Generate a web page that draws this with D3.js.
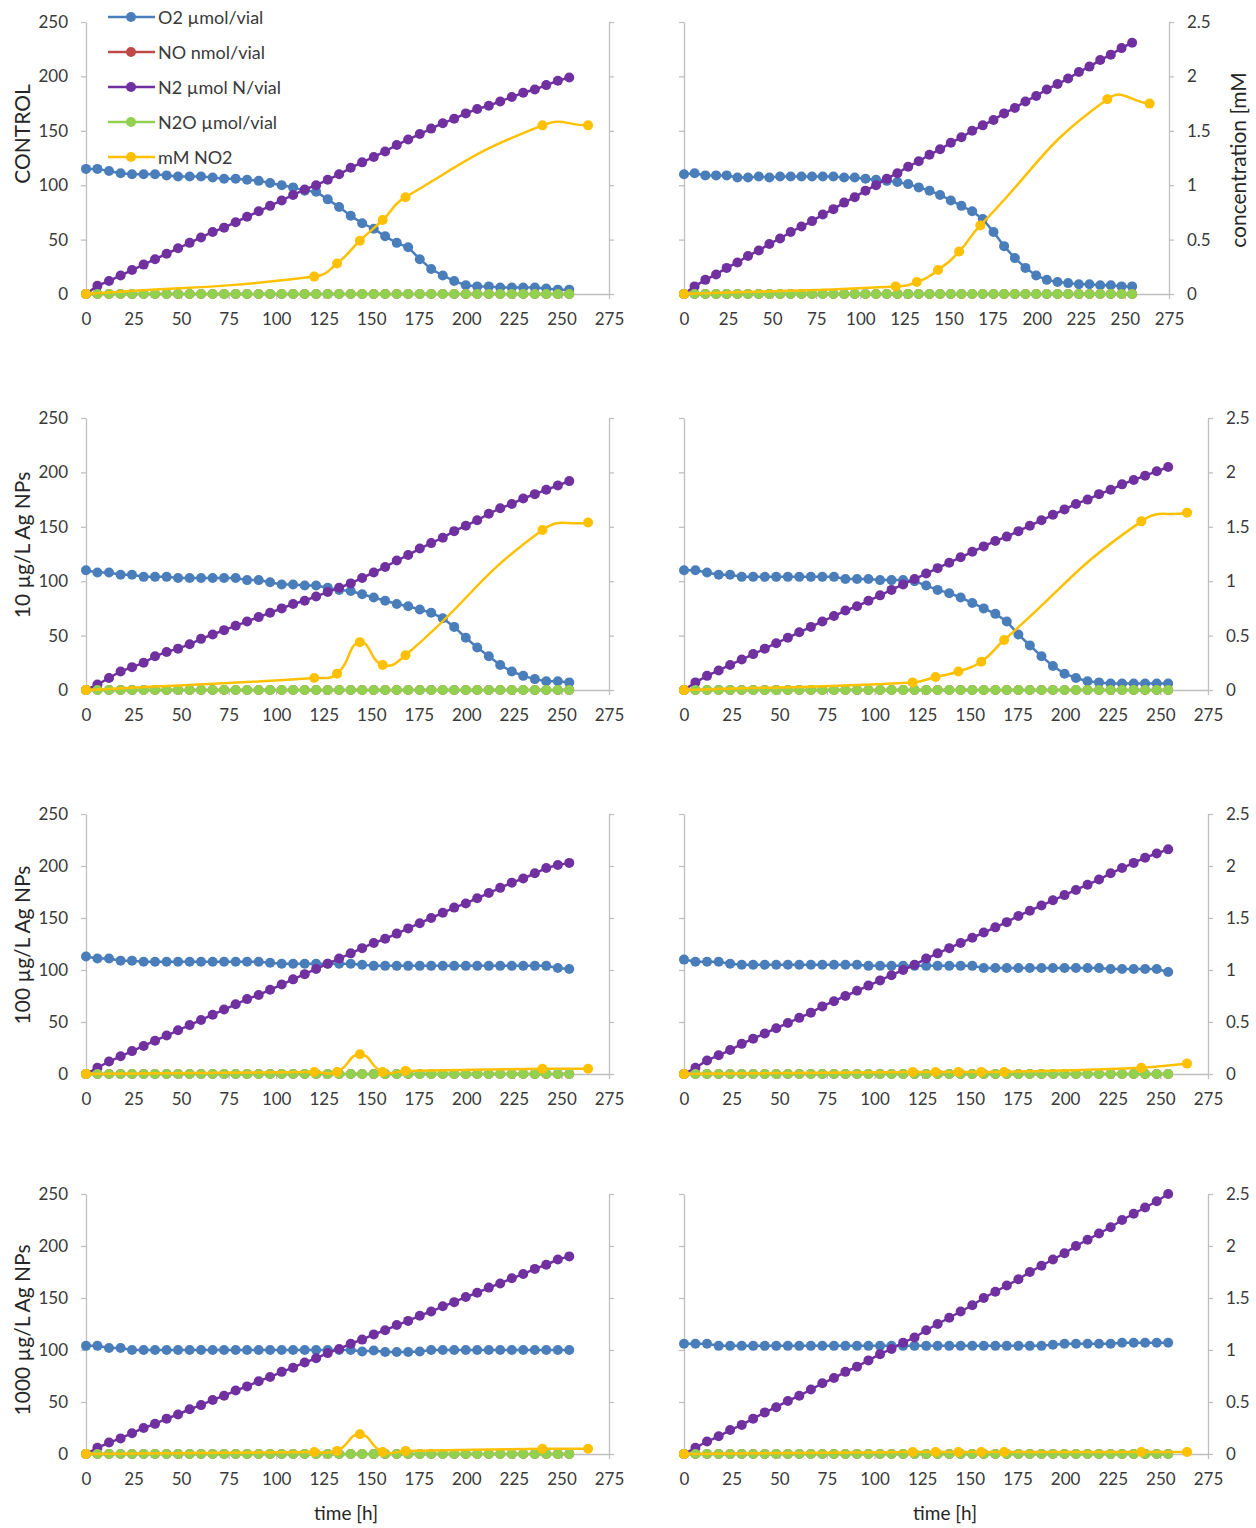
<!DOCTYPE html>
<html>
<head>
<meta charset="utf-8">
<script src="https://cdn.jsdelivr.net/npm/d3@7"></script>
<style>
  body { margin: 0; background: #fff; }
  text { font-family: Lato, "Open Sans", sans-serif; }
</style>
</head>
<body>
<svg id="chart" width="1256" height="1528"></svg>
<script>
// sampling times of the gas measurements [h]
var hours = [0, 6, 12.1, 18.2, 24.2, 30.3, 36.3, 42.4, 48.4, 54.5, 60.5, 66.6, 72.6, 78.7, 84.7,
  90.8, 96.8, 102.9, 108.9, 115, 121, 127.1, 133.1, 139.2, 145.2, 151.3, 157.3, 163.4, 169.4,
  175.5, 181.5, 187.6, 193.6, 199.7, 205.7, 211.8, 217.8, 223.9, 229.9, 236, 242, 248.1, 254.1];
// sampling times of the nitrite measurements [h]
var no2Hours = [0, 120, 132, 144, 156, 168, 240, 264];

var xTicks = [0, 25, 50, 75, 100, 125, 150, 175, 200, 225, 250, 275];
var yTicks = [0, 50, 100, 150, 200, 250];
var y2Ticks = [0, 0.5, 1, 1.5, 2, 2.5];

var seriesNames = ["O2 µmol/vial", "NO nmol/vial", "N2 µmol N/vial", "N2O µmol/vial", "mM NO2"];
var seriesColors = ["#4a7ebb", "#be4b48", "#7030a0", "#92d050", "#ffc000"];
var rowTitles = ["CONTROL", "10 µg/L Ag NPs", "100 µg/L Ag NPs", "1000 µg/L Ag NPs"];

// NO and N2O stay at zero in every vial
var noZero = [0,0,0,0,0, 0,0,0,0,0, 0,0,0,0,0, 0,0,0,0,0, 0,0,0,0,0, 0,0,0,0,0, 0,0,0,0,0, 0,0,0,0,0, 0,0,0];
var n2oZero = [0,0,0,0,0, 0,0,0,0,0, 0,0,0,0,0, 0,0,0,0,0, 0,0,0,0,0, 0,0,0,0,0, 0,0,0,0,0, 0,0,0,0,0, 0,0,0];

// CONTROL
var o2ControlA = [115,115,113,111,110, 110,110,109,108,108, 108,107,106,106,105, 104,102,100,98,95,
  94,87,80,72,65, 60,53,47,43,32, 23,17,12,8,7, 7,6,6,6,6, 5,4,4];
var n2ControlA = [0,7.5,12,17,22, 27,32,37,42,47, 52,57,61,66,71, 76,81,86,91,96,
  100,105,110,116,121, 126,131,137,142,147, 152,157,161,166,170, 173,177,181,185,188, 192,196,199];
var no2ControlA = [0, 0.16, 0.28, 0.49, 0.68, 0.89, 1.55, 1.55];

var o2ControlB = [110,111,109,109,109, 107,107,108,107,108, 108,108,108,108,108, 107,107,106,105,104,
  103,101,98,95,91, 86,81,76,69,57, 44,33,24,17,13, 11,10,9,9,8, 8,7,7];
var n2ControlB = [0,7,13,18,24, 29,35,40,46,51, 57,62,67,73,78, 84,89,95,100,106,
  111,117,122,128,133, 139,144,150,155,160, 166,171,177,182,188, 193,198,204,209,215, 220,226,231];
var no2ControlB = [0, 0.07, 0.11, 0.22, 0.39, 0.63, 1.79, 1.75];

// 10 ug/L
var o2TenA = [110,108,108,106,106, 104,104,104,103,103, 103,103,103,103,101, 101,99,97,97,96,
  96,94,92,91,88, 85,82,79,77,74, 71,66,58,48,39, 31,23,17,13,10, 8,8,7];
var n2TenA = [0,5,11,17,21, 25,31,35,38,42, 47,51,55,59,63, 67,71,75,79,82,
  86,90,94,98,103, 108,113,119,124,130, 135,140,146,151,156, 162,167,171,176,180, 184,188,192];
var no2TenA = [0, 0.11, 0.15, 0.44, 0.23, 0.32, 1.47, 1.54];

var o2TenB = [110,110,108,106,106, 104,104,104,104,104, 104,104,104,104,102, 102,102,101,101,101,
  100,96,92,89,85, 80,75,70,63,51, 41,31,22,15,11, 8,7,6,6,6, 6,6,6];
var n2TenB = [0,7,13,18,23, 28,33,38,43,48, 53,58,63,68,73, 77,82,87,92,97,
  102,107,112,117,122, 127,132,137,141,146, 151,156,161,166,171, 175,180,184,189,193, 197,201,205];
var no2TenB = [0, 0.07, 0.12, 0.17, 0.26, 0.46, 1.55, 1.63];

// 100 ug/L
var o2HundredA = [113,111,111,109,109, 108,108,108,108,108, 108,108,108,108,108, 108,107,106,106,106,
  106,106,106,106,105, 104,104,104,104,104, 104,104,104,104,104, 104,104,104,104,104, 104,102,101];
var n2HundredA = [0,6,12,17,22, 27,32,37,42,47, 52,57,62,67,72, 76,81,86,91,96,
  101,106,111,116,121, 126,130,135,140,145, 150,155,160,164,169, 174,179,184,188,193, 198,201,203];
var no2HundredA = [0, 0.02, 0.02, 0.19, 0.02, 0.03, 0.05, 0.05];

var o2HundredB = [110,108,108,108,106, 105,105,105,105,105, 105,105,105,105,105, 105,104,104,104,104,
  104,104,104,104,104, 104,102,102,102,102, 102,102,102,102,102, 102,102,101,101,101, 101,101,98];
var n2HundredB = [0,6,13,18,23, 29,34,39,44,49, 54,59,65,70,75, 80,85,90,95,100,
  105,111,116,121,126, 131,136,141,146,152, 157,162,167,172,177, 182,187,193,198,203, 208,212,216];
var no2HundredB = [0, 0.02, 0.02, 0.02, 0.02, 0.02, 0.06, 0.1];

// 1000 ug/L
var o2ThousandA = [104,104,102,102,100, 100,100,100,100,100, 100,100,100,100,100, 100,100,100,100,100,
  100,100,100,100,98.5, 99.5,98,98,98,98.5, 100,100,100,100,100, 100,100,100,100,100, 100,100,100];
var n2ThousandA = [0,6,11,15,20, 25,29,34,38,43, 47,52,56,61,65, 70,74,79,83,88,
  92,97,101,106,110, 115,119,124,128,133, 137,142,146,151,155, 160,164,169,173,178, 182,187,190];
var no2ThousandA = [0, 0.02, 0.03, 0.19, 0.02, 0.03, 0.05, 0.05];

var o2ThousandB = [106,106,106,104,104, 104,104,104,104,104, 104,104,104,104,104, 104,104,104,104,104,
  104,104,104,104,104, 104,104,104,104,104, 104,104,105,106,106, 106,106,106,107,107, 107,107,107];
var n2ThousandB = [0,6,12,17,23, 28,34,40,45,51, 56,62,68,73,79, 84,90,96,101,107,
  112,119,125,131,137, 143,150,156,162,168, 175,181,187,193,200, 206,212,218,225,231, 237,243,250];
var no2ThousandB = [0, 0.02, 0.02, 0.02, 0.02, 0.02, 0.02, 0.02];

var svg = d3.select("#chart");

var rows = [
  { top: 22, bottom: 294, titleY: 134 },
  { top: 418, bottom: 690, titleY: 545 },
  { top: 814, bottom: 1074, titleY: 945 },
  { top: 1194, bottom: 1454, titleY: 1330 }
];

var panels = [
  { row: 0, side: "left",  o2: o2ControlA, n2: n2ControlA, no2: no2ControlA },
  { row: 0, side: "right", o2: o2ControlB, n2: n2ControlB, no2: no2ControlB },
  { row: 1, side: "left",  o2: o2TenA, n2: n2TenA, no2: no2TenA },
  { row: 1, side: "right", o2: o2TenB, n2: n2TenB, no2: no2TenB },
  { row: 2, side: "left",  o2: o2HundredA, n2: n2HundredA, no2: no2HundredA },
  { row: 2, side: "right", o2: o2HundredB, n2: n2HundredB, no2: no2HundredB },
  { row: 3, side: "left",  o2: o2ThousandA, n2: n2ThousandA, no2: no2ThousandA },
  { row: 3, side: "right", o2: o2ThousandB, n2: n2ThousandB, no2: no2ThousandB }
];

function styleAxis(sel) {
  sel.select(".domain").attr("stroke", "#bfbfbf").attr("stroke-width", 1.3);
  sel.selectAll(".tick line").attr("stroke", "#bfbfbf").attr("stroke-width", 1.3);
  sel.selectAll(".tick text").attr("fill", "#3a3a3a")
    .style("font-size", "17px").style("font-family", "Lato, 'Open Sans', sans-serif");
}

// spreadsheet-style smoothed line: bezier handles scaled by neighbouring segment lengths
function smoothPath(pts) {
  var path = d3.path(), n = pts.length, f = 0.5;
  function dist(a, b) { return Math.hypot(b[0] - a[0], b[1] - a[1]); }
  function tangent(i) {
    var a = pts[Math.max(i - 1, 0)], b = pts[Math.min(i + 1, n - 1)];
    return [b[0] - a[0], b[1] - a[1]];
  }
  path.moveTo(pts[0][0], pts[0][1]);
  for (var i = 0; i < n - 1; i++) {
    var dPrev = i > 0 ? dist(pts[i - 1], pts[i]) : 0;
    var dCur = dist(pts[i], pts[i + 1]);
    var dNext = i + 2 < n ? dist(pts[i + 1], pts[i + 2]) : 0;
    var t1 = tangent(i), t2 = tangent(i + 1);
    var k1 = f * dCur / (dPrev + dCur), k2 = f * dCur / (dCur + dNext);
    path.bezierCurveTo(
      pts[i][0] + t1[0] * k1, pts[i][1] + t1[1] * k1,
      pts[i + 1][0] - t2[0] * k2, pts[i + 1][1] - t2[1] * k2,
      pts[i + 1][0], pts[i + 1][1]);
  }
  return path.toString();
}

function drawPanel(p) {
  var r = rows[p.row];
  var x0 = p.side == "left" ? 86 : 684;
  var x1 = p.side == "left" ? 609 : (p.row == 0 ? 1169 : 1208);

  var x = d3.scaleLinear().domain([0, 275]).range([x0, x1]);
  var y = d3.scaleLinear().domain([0, 250]).range([r.bottom, r.top]);
  var y2 = d3.scaleLinear().domain([0, 2.5]).range([r.bottom, r.top]);

  var g = svg.append("g");

  var leftAxis = d3.axisLeft(y).tickValues(yTicks).tickSize(5).tickSizeOuter(0).tickPadding(13);
  if (p.side == "right") leftAxis.tickFormat("");
  g.append("g").attr("transform", "translate(" + x0 + ",0)").call(leftAxis).call(styleAxis);

  var rightAxis = d3.axisRight(y2).tickValues(y2Ticks).tickSize(5).tickSizeOuter(0).tickPadding(13)
    .tickFormat(d3.format("~g"));
  if (p.side == "left") rightAxis.tickFormat("");
  g.append("g").attr("transform", "translate(" + x1 + ",0)").call(rightAxis).call(styleAxis);

  var xAxis = d3.axisBottom(x).tickValues(xTicks).tickSize(5).tickSizeOuter(0).tickPadding(14);
  g.append("g").attr("transform", "translate(0," + r.bottom + ")").call(xAxis).call(styleAxis);

  var gas = [p.o2, noZero, p.n2, n2oZero];
  var line = d3.line().x(function(d, i) { return x(hours[i]); }).y(function(d) { return y(d); });

  gas.forEach(function(vals, k) {
    g.append("path").datum(vals)
      .attr("d", line)
      .attr("fill", "none")
      .attr("stroke", seriesColors[k])
      .attr("stroke-width", 2.5);
    g.selectAll(null).data(vals).enter().append("circle")
      .attr("cx", function(d, i) { return x(hours[i]); })
      .attr("cy", function(d) { return y(d); })
      .attr("r", 5)
      .attr("fill", seriesColors[k]);
  });

  // nitrite on the secondary axis
  var pts = p.no2.map(function(d, i) { return [x(no2Hours[i]), y2(d)]; });
  g.append("path")
    .attr("d", smoothPath(pts))
    .attr("fill", "none")
    .attr("stroke", seriesColors[4])
    .attr("stroke-width", 2.5);
  g.selectAll(null).data(p.no2).enter().append("circle")
    .attr("cx", function(d, i) { return x(no2Hours[i]); })
    .attr("cy", function(d) { return y2(d); })
    .attr("r", 5)
    .attr("fill", seriesColors[4]);

  if (p.side == "left") {
    svg.append("text")
      .attr("transform", "translate(21," + r.titleY + ") rotate(-90)")
      .attr("text-anchor", "middle")
      .attr("dominant-baseline", "central")
      .attr("fill", "#262626")
      .style("font-size", "21px")
      .text(rowTitles[p.row]);
  }
  if (p.row == 3) {
    svg.append("text")
      .attr("x", p.side == "left" ? 346 : 945)
      .attr("y", 1512)
      .attr("text-anchor", "middle")
      .attr("dominant-baseline", "central")
      .attr("fill", "#262626")
      .style("font-size", "19px")
      .text("time [h]");
  }
}

panels.forEach(drawPanel);

// secondary axis title (first row only)
svg.append("text")
  .attr("transform", "translate(1237,160) rotate(-90)")
  .attr("text-anchor", "middle")
  .attr("dominant-baseline", "central")
  .attr("fill", "#262626")
  .style("font-size", "21px")
  .text("concentration [mM");

// legend
var legend = svg.append("g");
seriesNames.forEach(function(name, k) {
  var ly = 17 + k * 35;
  legend.append("line")
    .attr("x1", 108).attr("x2", 155).attr("y1", ly).attr("y2", ly)
    .attr("stroke", seriesColors[k]).attr("stroke-width", 2.5);
  legend.append("circle")
    .attr("cx", 131).attr("cy", ly).attr("r", 5)
    .attr("fill", seriesColors[k]);
  legend.append("text")
    .attr("x", 158).attr("y", ly)
    .attr("dominant-baseline", "central")
    .attr("fill", "#3a3a3a")
    .style("font-size", "18px")
    .text(name);
});
</script>
</body>
</html>
